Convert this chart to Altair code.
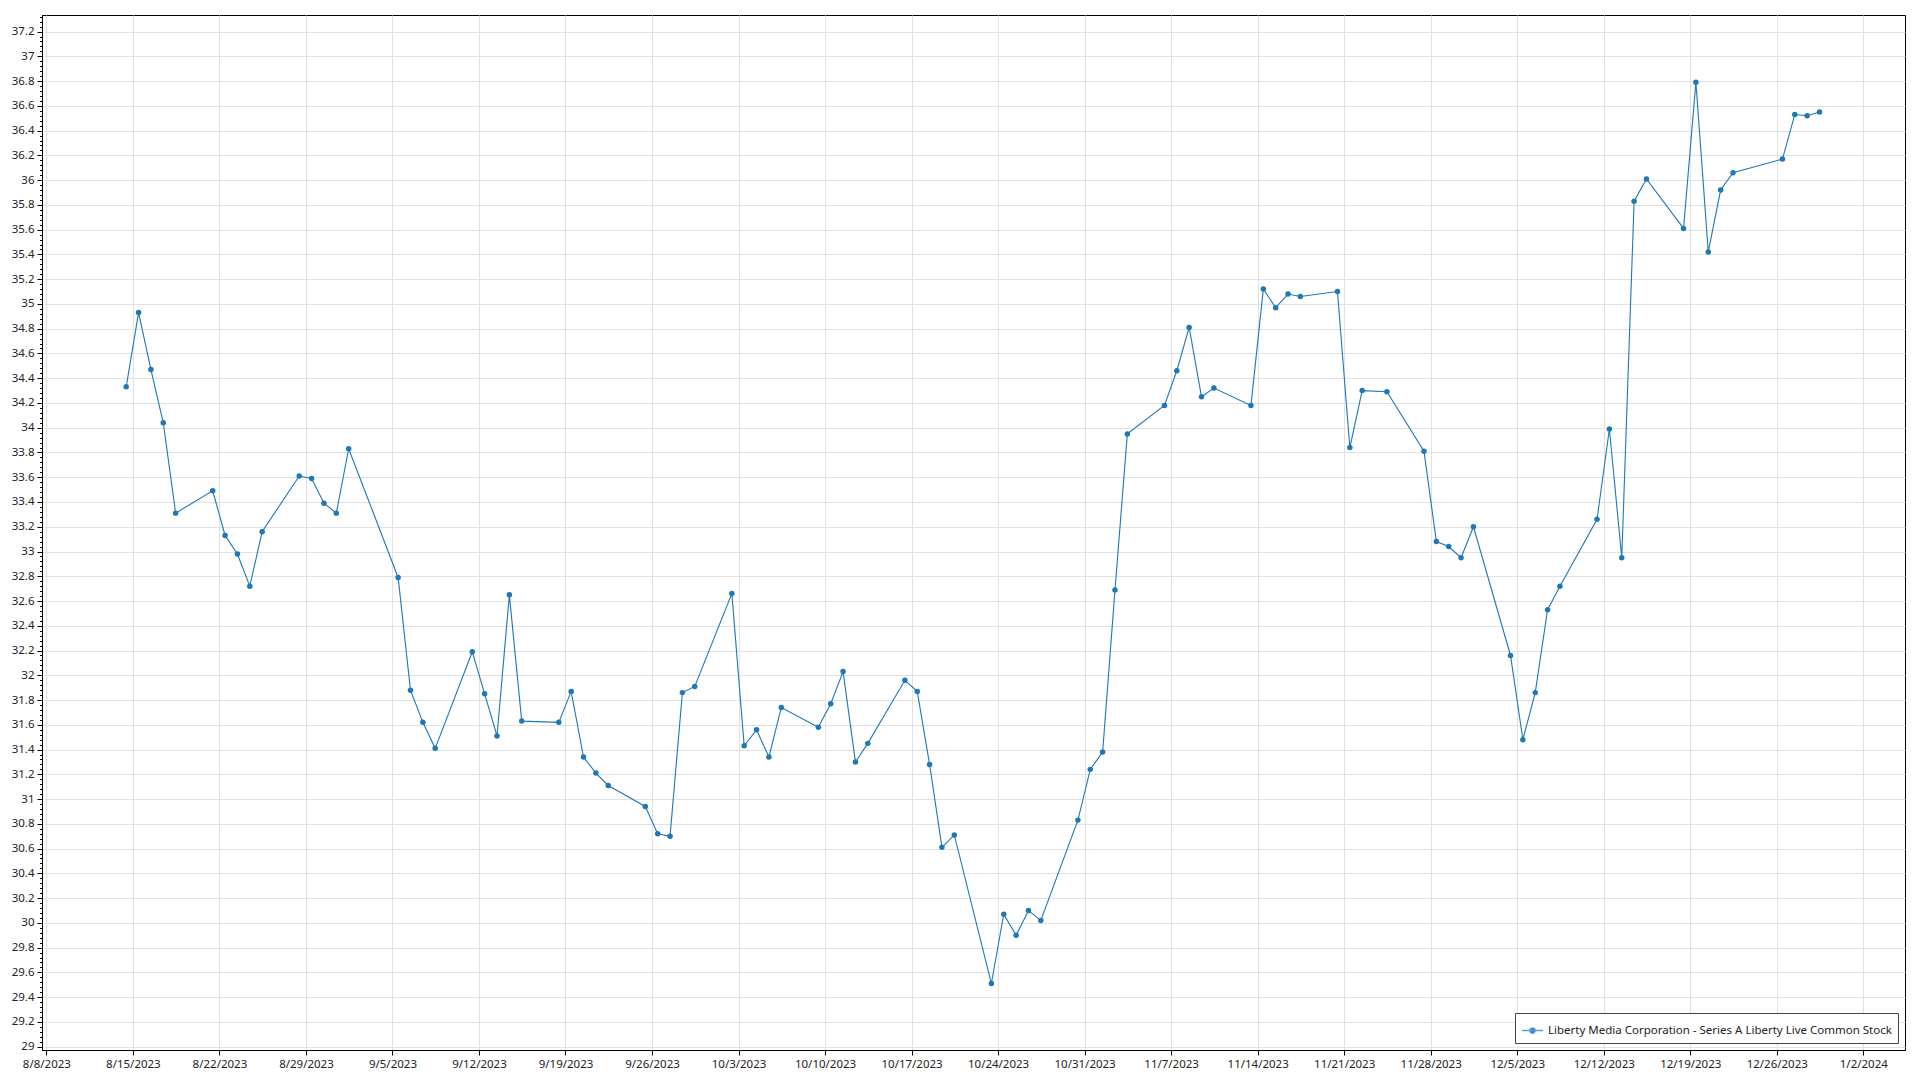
import altair as alt
import pandas as pd

FONT = "Noto Sans"
BLUE = "#1f77b4"

# trading dates (weekly rows)
dates = [
    "2023-08-14", "2023-08-15", "2023-08-16", "2023-08-17", "2023-08-18",
    "2023-08-21", "2023-08-22", "2023-08-23", "2023-08-24", "2023-08-25",
    "2023-08-28", "2023-08-29", "2023-08-30", "2023-08-31", "2023-09-01",
    "2023-09-05", "2023-09-06", "2023-09-07", "2023-09-08",
    "2023-09-11", "2023-09-12", "2023-09-13", "2023-09-14", "2023-09-15",
    "2023-09-18", "2023-09-19", "2023-09-20", "2023-09-21", "2023-09-22",
    "2023-09-25", "2023-09-26", "2023-09-27", "2023-09-28", "2023-09-29",
    "2023-10-02", "2023-10-03", "2023-10-04", "2023-10-05", "2023-10-06",
    "2023-10-09", "2023-10-10", "2023-10-11", "2023-10-12", "2023-10-13",
    "2023-10-16", "2023-10-17", "2023-10-18", "2023-10-19", "2023-10-20",
    "2023-10-23", "2023-10-24", "2023-10-25", "2023-10-26", "2023-10-27",
    "2023-10-30", "2023-10-31", "2023-11-01", "2023-11-02", "2023-11-03",
    "2023-11-06", "2023-11-07", "2023-11-08", "2023-11-09", "2023-11-10",
    "2023-11-13", "2023-11-14", "2023-11-15", "2023-11-16", "2023-11-17",
    "2023-11-20", "2023-11-21", "2023-11-22", "2023-11-24",
    "2023-11-27", "2023-11-28", "2023-11-29", "2023-11-30", "2023-12-01",
    "2023-12-04", "2023-12-05", "2023-12-06", "2023-12-07", "2023-12-08",
    "2023-12-11", "2023-12-12", "2023-12-13", "2023-12-14", "2023-12-15",
    "2023-12-18", "2023-12-19", "2023-12-20", "2023-12-21", "2023-12-22",
    "2023-12-26", "2023-12-27", "2023-12-28", "2023-12-29",
]

prices = [
    34.33, 34.93, 34.47, 34.04, 33.31,
    33.49, 33.13, 32.98, 32.72, 33.16,
    33.61, 33.59, 33.39, 33.31, 33.83,
    32.79, 31.88, 31.62, 31.41,
    32.19, 31.85, 31.51, 32.65, 31.63,
    31.62, 31.87, 31.34, 31.21, 31.11,
    30.94, 30.72, 30.70, 31.86, 31.91,
    32.66, 31.43, 31.56, 31.34, 31.74,
    31.58, 31.77, 32.03, 31.30, 31.45,
    31.96, 31.87, 31.28, 30.61, 30.71,
    29.51, 30.07, 29.90, 30.10, 30.02,
    30.83, 31.24, 31.38, 32.69, 33.95,
    34.18, 34.46, 34.81, 34.25, 34.32,
    34.18, 35.12, 34.97, 35.08, 35.06,
    35.10, 33.84, 34.30, 34.29,
    33.81, 33.08, 33.04, 32.95, 33.20,
    32.16, 31.48, 31.86, 32.53, 32.72,
    33.26, 33.99, 32.95, 35.83, 36.01,
    35.61, 36.79, 35.42, 35.92, 36.06,
    36.17, 36.53, 36.52, 36.55,
]

x_tick_dates = [
    "2023-08-08", "2023-08-15", "2023-08-22", "2023-08-29", "2023-09-05",
    "2023-09-12", "2023-09-19", "2023-09-26", "2023-10-03", "2023-10-10",
    "2023-10-17", "2023-10-24", "2023-10-31", "2023-11-07", "2023-11-14",
    "2023-11-21", "2023-11-28", "2023-12-05", "2023-12-12", "2023-12-19",
    "2023-12-26", "2024-01-02",
]
y_tick_values = [round(29 + 0.2 * i, 1) for i in range(42)]
y_minor_values = [round(29 + 0.04 * i, 2) for i in range(209)]

series_name = "Liberty Media Corporation - Series A Liberty Live Common Stock"

df = pd.DataFrame({
    "date": [d + "T11:00:00" for d in dates],
    "price": prices,
    "series": series_name,
})


def dt(s, h=0, m=0):
    y, mo, d = map(int, s.split("-"))
    return alt.DateTime(year=y, month=mo, date=d, hours=h, minutes=m)


x_scale = alt.Scale(domain=[dt("2023-08-07", 15, 30), dt("2024-01-05", 9)])
y_scale = alt.Scale(domain=[28.973, 37.334], nice=False, zero=False)

x_axis = alt.Axis(
    values=[dt(s) for s in x_tick_dates], format="%-m/%-d/%Y", title=None,
    labelFont=FONT, labelFontSize=11.5, labelColor="#222", labelPadding=3,
    labelOverlap=False, labelFlush=False,
    tickColor="#000", tickSize=5, domainColor="#000",
    grid=True, gridColor="#e2e2e2", gridWidth=1,
)

y_axis = alt.Axis(
    values=y_tick_values, format=".1~f", title=None, orient="left",
    labelFont=FONT, labelFontSize=11.5, labelColor="#222", labelPadding=3,
    labelOverlap=False, labelFlush=False,
    tickColor="#000", tickSize=5, domainColor="#000",
    grid=True, gridColor="#e2e2e2", gridWidth=1,
)

y_minor_axis = alt.Axis(
    values=y_minor_values, labels=False, domain=False, grid=False, title=None,
    orient="left", tickColor="#000", tickSize=2.5,
)

PATH = "M-1,0L1,0M-0.25,0A0.25,0.25,0,1,0,0.25,0A0.25,0.25,0,1,0,-0.25,0Z"

base = alt.Chart(df)

line = base.mark_line(color=BLUE, strokeWidth=1.1).encode(
    x=alt.X("date:T", scale=x_scale, axis=x_axis),
    y=alt.Y("price:Q", scale=y_scale, axis=None),
)

points = base.mark_circle(size=30, opacity=1).encode(
    x=alt.X("date:T", scale=x_scale, axis=x_axis),
    y=alt.Y("price:Q", scale=y_scale, axis=y_axis),
    color=alt.Color(
        "series:N",
        scale=alt.Scale(range=[BLUE]),
        legend=alt.Legend(
            title=None, orient="bottom-right", offset=7,
            strokeColor="#444", fillColor="white", padding=6,
            labelFont=FONT, labelFontSize=11.5, labelColor="#222", labelLimit=800,
            symbolType=PATH, symbolSize=441, symbolStrokeWidth=1.5,
            symbolStrokeColor="#5b9bd5", symbolFillColor=BLUE, symbolOpacity=1,
        ),
    ),
)

minor = base.mark_point(opacity=0).encode(
    x=alt.X("date:T", scale=x_scale, axis=x_axis),
    y=alt.Y("price:Q", scale=y_scale, axis=y_minor_axis),
)

chart = (
    alt.layer(line, points, minor)
    .resolve_axis(y="independent")
    .properties(
        width=1863, height=1035,
        padding={"left": 34, "top": 7, "right": 7, "bottom": 30},
        autosize=alt.AutoSizeParams(type="none"),
        background="white",
    )
    .configure_view(stroke="#000", strokeWidth=1)
)

chart.save("out.html", embed_options={"renderer": "svg", "actions": False})
